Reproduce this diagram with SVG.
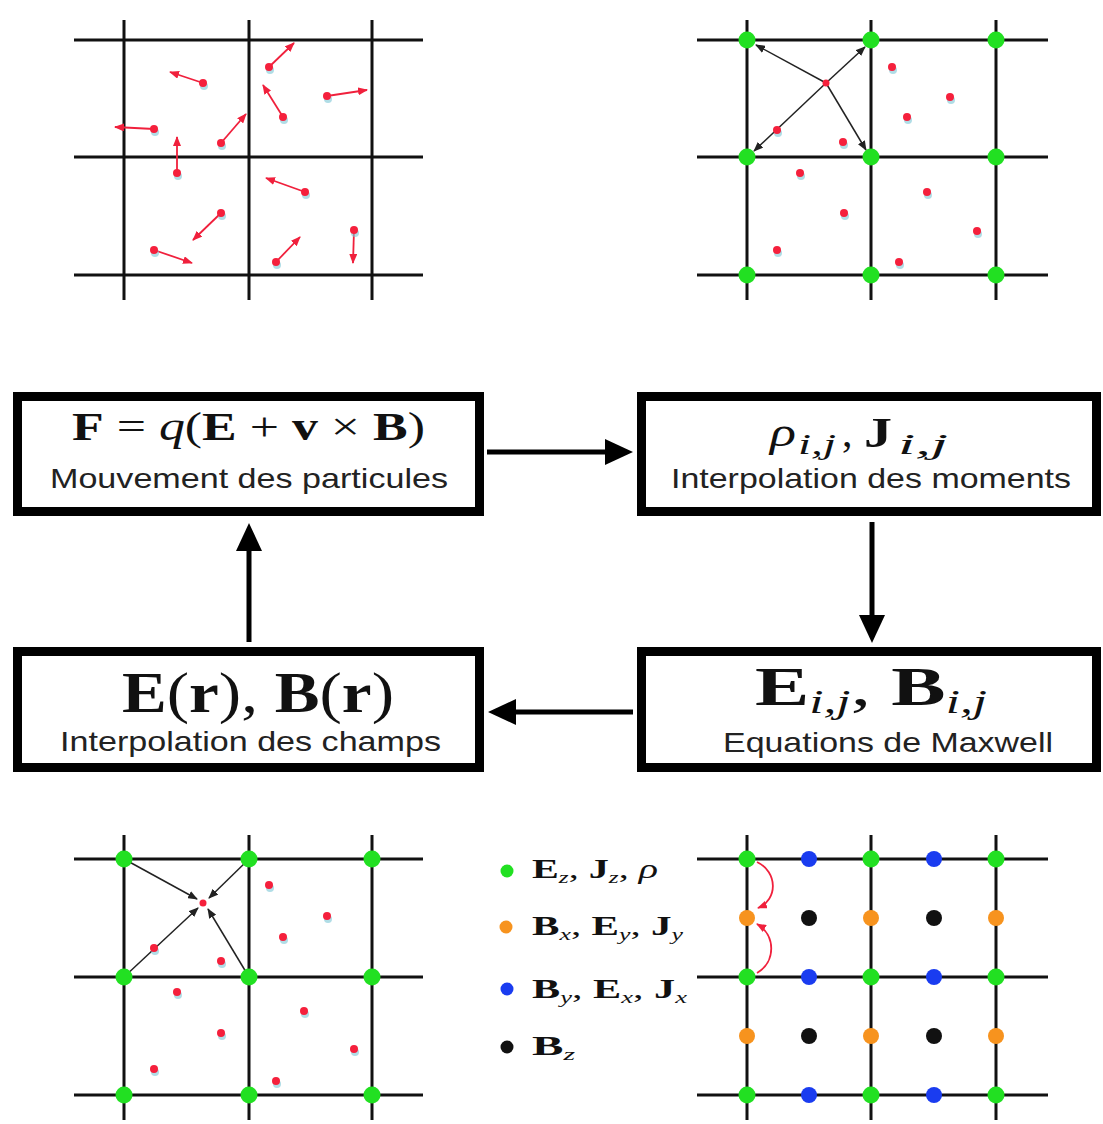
<svg xmlns="http://www.w3.org/2000/svg" width="1103" height="1124" viewBox="0 0 1103 1124">
<style>
.grid line{stroke:#111;stroke-width:3}
.box{fill:#fff;stroke:#000;stroke-width:9}
.flow{stroke:#000;stroke-width:5;fill:none}
.ra{stroke:#f0203c;stroke-width:1.8;fill:none}
.ba{stroke:#222;stroke-width:1.5;fill:none}
.sans{font-family:"Liberation Sans",Arial,sans-serif;font-size:28px;fill:#222}
.math{font-family:"Liberation Serif","Times New Roman",serif;fill:#111}
.b{font-weight:bold}
.i{font-style:italic}
.g{fill:#22e022}
.o{fill:#f7931e}
.bl{fill:#1a3cf0}
.k{fill:#111}
.pr{fill:#f5203c}
.sh{fill:#7cc6d6;opacity:.6}
</style>
<defs>
<marker id="ah" markerUnits="userSpaceOnUse" markerWidth="28" markerHeight="26" viewBox="0 0 28 26" refX="8" refY="13" orient="auto"><path d="M0,0L28,13L0,26z" fill="#000"/></marker>
<marker id="rh" markerUnits="userSpaceOnUse" markerWidth="10" markerHeight="8" viewBox="0 0 10 8" refX="9" refY="4" orient="auto"><path d="M0,0L10,4L0,8z" fill="#f0203c"/></marker>
<marker id="bh" markerUnits="userSpaceOnUse" markerWidth="10" markerHeight="8" viewBox="0 0 10 8" refX="9" refY="4" orient="auto"><path d="M0,0L10,4L0,8z" fill="#222"/></marker>
</defs>
<rect width="1103" height="1124" fill="#fff"/>

<!-- Top-left: particle motion -->
<g id="grid-particles">
<g class="grid">
<line x1="74" y1="40" x2="423" y2="40"/><line x1="74" y1="157" x2="423" y2="157"/><line x1="74" y1="275" x2="423" y2="275"/>
<line x1="124" y1="20" x2="124" y2="300"/><line x1="249" y1="20" x2="249" y2="300"/><line x1="372" y1="20" x2="372" y2="300"/>
</g>
<g>
<line class="ra" x1="203" y1="83" x2="170" y2="72" marker-end="url(#rh)"/>
<line class="ra" x1="154" y1="129" x2="115" y2="127" marker-end="url(#rh)"/>
<line class="ra" x1="177" y1="173" x2="177" y2="137" marker-end="url(#rh)"/>
<line class="ra" x1="221" y1="143" x2="246" y2="114" marker-end="url(#rh)"/>
<line class="ra" x1="269" y1="67" x2="294" y2="43" marker-end="url(#rh)"/>
<line class="ra" x1="283" y1="117" x2="263" y2="85" marker-end="url(#rh)"/>
<line class="ra" x1="327" y1="96" x2="367" y2="90" marker-end="url(#rh)"/>
<line class="ra" x1="305" y1="192" x2="266" y2="178" marker-end="url(#rh)"/>
<line class="ra" x1="221" y1="213" x2="193" y2="240" marker-end="url(#rh)"/>
<line class="ra" x1="154" y1="250" x2="192" y2="263" marker-end="url(#rh)"/>
<line class="ra" x1="276" y1="262" x2="300" y2="237" marker-end="url(#rh)"/>
<line class="ra" x1="354" y1="230" x2="353" y2="263" marker-end="url(#rh)"/>
</g>
<g>
<circle class="sh" cx="204" cy="86" r="4"/><circle class="pr" cx="203" cy="83" r="4"/>
<circle class="sh" cx="155" cy="132" r="4"/><circle class="pr" cx="154" cy="129" r="4"/>
<circle class="sh" cx="178" cy="176" r="4"/><circle class="pr" cx="177" cy="173" r="4"/>
<circle class="sh" cx="222" cy="146" r="4"/><circle class="pr" cx="221" cy="143" r="4"/>
<circle class="sh" cx="270" cy="70" r="4"/><circle class="pr" cx="269" cy="67" r="4"/>
<circle class="sh" cx="284" cy="120" r="4"/><circle class="pr" cx="283" cy="117" r="4"/>
<circle class="sh" cx="328" cy="99" r="4"/><circle class="pr" cx="327" cy="96" r="4"/>
<circle class="sh" cx="306" cy="195" r="4"/><circle class="pr" cx="305" cy="192" r="4"/>
<circle class="sh" cx="222" cy="216" r="4"/><circle class="pr" cx="221" cy="213" r="4"/>
<circle class="sh" cx="155" cy="253" r="4"/><circle class="pr" cx="154" cy="250" r="4"/>
<circle class="sh" cx="277" cy="265" r="4"/><circle class="pr" cx="276" cy="262" r="4"/>
<circle class="sh" cx="355" cy="233" r="4"/><circle class="pr" cx="354" cy="230" r="4"/>
</g>
</g>

<!-- Top-right: moment interpolation -->
<g id="grid-moments">
<g class="grid">
<line x1="697" y1="40" x2="1048" y2="40"/><line x1="697" y1="157" x2="1048" y2="157"/><line x1="697" y1="275" x2="1048" y2="275"/>
<line x1="747" y1="20" x2="747" y2="300"/><line x1="871" y1="20" x2="871" y2="300"/><line x1="996" y1="20" x2="996" y2="300"/>
</g>
<g>
<line class="ba" x1="826" y1="83" x2="756" y2="45" marker-end="url(#bh)"/>
<line class="ba" x1="826" y1="83" x2="865" y2="47" marker-end="url(#bh)"/>
<line class="ba" x1="826" y1="83" x2="754" y2="151" marker-end="url(#bh)"/>
<line class="ba" x1="826" y1="83" x2="866" y2="150" marker-end="url(#bh)"/>
</g>
<g>
<circle class="g" cx="747" cy="40" r="8.5"/><circle class="g" cx="871" cy="40" r="8.5"/><circle class="g" cx="996" cy="40" r="8.5"/>
<circle class="g" cx="747" cy="157" r="8.5"/><circle class="g" cx="871" cy="157" r="8.5"/><circle class="g" cx="996" cy="157" r="8.5"/>
<circle class="g" cx="747" cy="275" r="8.5"/><circle class="g" cx="871" cy="275" r="8.5"/><circle class="g" cx="996" cy="275" r="8.5"/>
</g>
<g>
<circle class="pr" cx="826" cy="83" r="3.5"/>
<circle class="sh" cx="893" cy="70" r="4"/><circle class="pr" cx="892" cy="67" r="4"/>
<circle class="sh" cx="951" cy="100" r="4"/><circle class="pr" cx="950" cy="97" r="4"/>
<circle class="sh" cx="908" cy="120" r="4"/><circle class="pr" cx="907" cy="117" r="4"/>
<circle class="sh" cx="778" cy="133" r="4"/><circle class="pr" cx="777" cy="130" r="4"/>
<circle class="sh" cx="844" cy="145" r="4"/><circle class="pr" cx="843" cy="142" r="4"/>
<circle class="sh" cx="801" cy="176" r="4"/><circle class="pr" cx="800" cy="173" r="4"/>
<circle class="sh" cx="928" cy="195" r="4"/><circle class="pr" cx="927" cy="192" r="4"/>
<circle class="sh" cx="845" cy="216" r="4"/><circle class="pr" cx="844" cy="213" r="4"/>
<circle class="sh" cx="978" cy="234" r="4"/><circle class="pr" cx="977" cy="231" r="4"/>
<circle class="sh" cx="778" cy="253" r="4"/><circle class="pr" cx="777" cy="250" r="4"/>
<circle class="sh" cx="900" cy="265" r="4"/><circle class="pr" cx="899" cy="262" r="4"/>
</g>
</g>

<!-- Bottom-left: field interpolation -->
<g id="grid-fields">
<g class="grid">
<line x1="74" y1="859" x2="423" y2="859"/><line x1="74" y1="977" x2="423" y2="977"/><line x1="74" y1="1095" x2="423" y2="1095"/>
<line x1="124" y1="835" x2="124" y2="1120"/><line x1="249" y1="835" x2="249" y2="1120"/><line x1="372" y1="835" x2="372" y2="1120"/>
</g>
<g>
<line class="ba" x1="124" y1="859" x2="197" y2="899" marker-end="url(#bh)"/>
<line class="ba" x1="249" y1="859" x2="209" y2="898" marker-end="url(#bh)"/>
<line class="ba" x1="124" y1="977" x2="198" y2="908" marker-end="url(#bh)"/>
<line class="ba" x1="249" y1="977" x2="208" y2="909" marker-end="url(#bh)"/>
</g>
<g>
<circle class="g" cx="124" cy="859" r="8.5"/><circle class="g" cx="249" cy="859" r="8.5"/><circle class="g" cx="372" cy="859" r="8.5"/>
<circle class="g" cx="124" cy="977" r="8.5"/><circle class="g" cx="249" cy="977" r="8.5"/><circle class="g" cx="372" cy="977" r="8.5"/>
<circle class="g" cx="124" cy="1095" r="8.5"/><circle class="g" cx="249" cy="1095" r="8.5"/><circle class="g" cx="372" cy="1095" r="8.5"/>
</g>
<g>
<circle class="pr" cx="203" cy="903" r="3.5"/>
<circle class="sh" cx="270" cy="888" r="4"/><circle class="pr" cx="269" cy="885" r="4"/>
<circle class="sh" cx="328" cy="919" r="4"/><circle class="pr" cx="327" cy="916" r="4"/>
<circle class="sh" cx="284" cy="940" r="4"/><circle class="pr" cx="283" cy="937" r="4"/>
<circle class="sh" cx="155" cy="951" r="4"/><circle class="pr" cx="154" cy="948" r="4"/>
<circle class="sh" cx="222" cy="964" r="4"/><circle class="pr" cx="221" cy="961" r="4"/>
<circle class="sh" cx="178" cy="995" r="4"/><circle class="pr" cx="177" cy="992" r="4"/>
<circle class="sh" cx="305" cy="1014" r="4"/><circle class="pr" cx="304" cy="1011" r="4"/>
<circle class="sh" cx="222" cy="1036" r="4"/><circle class="pr" cx="221" cy="1033" r="4"/>
<circle class="sh" cx="355" cy="1052" r="4"/><circle class="pr" cx="354" cy="1049" r="4"/>
<circle class="sh" cx="155" cy="1072" r="4"/><circle class="pr" cx="154" cy="1069" r="4"/>
<circle class="sh" cx="277" cy="1084" r="4"/><circle class="pr" cx="276" cy="1081" r="4"/>
</g>
</g>

<!-- Legend -->
<g id="legend">
<circle class="g" cx="507" cy="871" r="6.5"/>
<circle class="o" cx="506" cy="927" r="6.5"/>
<circle class="bl" cx="507" cy="989" r="6.5"/>
<circle class="k" cx="507" cy="1047" r="6.5"/>
<text class="math" x="532" y="878" font-size="27" textLength="126" lengthAdjust="spacingAndGlyphs"><tspan class="b">E</tspan><tspan class="i" font-size="17" dy="5">z</tspan><tspan dy="-5">, </tspan><tspan class="b">J</tspan><tspan class="i" font-size="17" dy="5">z</tspan><tspan dy="-5">, </tspan><tspan class="i">ρ</tspan></text>
<text class="math" x="532" y="935" font-size="27" textLength="151" lengthAdjust="spacingAndGlyphs"><tspan class="b">B</tspan><tspan class="i" font-size="17" dy="5">x</tspan><tspan dy="-5">, </tspan><tspan class="b">E</tspan><tspan class="i" font-size="17" dy="5">y</tspan><tspan dy="-5">, </tspan><tspan class="b">J</tspan><tspan class="i" font-size="17" dy="5">y</tspan></text>
<text class="math" x="532" y="998" font-size="27" textLength="155" lengthAdjust="spacingAndGlyphs"><tspan class="b">B</tspan><tspan class="i" font-size="17" dy="5">y</tspan><tspan dy="-5">, </tspan><tspan class="b">E</tspan><tspan class="i" font-size="17" dy="5">x</tspan><tspan dy="-5">, </tspan><tspan class="b">J</tspan><tspan class="i" font-size="17" dy="5">x</tspan></text>
<text class="math" x="532" y="1055" font-size="27" textLength="43" lengthAdjust="spacingAndGlyphs"><tspan class="b">B</tspan><tspan class="i" font-size="17" dy="5">z</tspan></text>
</g>

<!-- Bottom-right: Yee grid -->
<g id="grid-yee">
<g class="grid">
<line x1="697" y1="859" x2="1048" y2="859"/><line x1="697" y1="977" x2="1048" y2="977"/><line x1="697" y1="1095" x2="1048" y2="1095"/>
<line x1="747" y1="835" x2="747" y2="1120"/><line x1="871" y1="835" x2="871" y2="1120"/><line x1="996" y1="835" x2="996" y2="1120"/>
</g>
<path class="ra" d="M757,862 C778,872 778,900 758,908" marker-end="url(#rh)"/>
<path class="ra" d="M757,973 C776,962 776,935 757,924" marker-end="url(#rh)"/>
<g>
<circle class="g" cx="747" cy="859" r="8.5"/><circle class="g" cx="871" cy="859" r="8.5"/><circle class="g" cx="996" cy="859" r="8.5"/>
<circle class="g" cx="747" cy="977" r="8.5"/><circle class="g" cx="871" cy="977" r="8.5"/><circle class="g" cx="996" cy="977" r="8.5"/>
<circle class="g" cx="747" cy="1095" r="8.5"/><circle class="g" cx="871" cy="1095" r="8.5"/><circle class="g" cx="996" cy="1095" r="8.5"/>
<circle class="bl" cx="809" cy="859" r="8"/><circle class="bl" cx="934" cy="859" r="8"/>
<circle class="bl" cx="809" cy="977" r="8"/><circle class="bl" cx="934" cy="977" r="8"/>
<circle class="bl" cx="809" cy="1095" r="8"/><circle class="bl" cx="934" cy="1095" r="8"/>
<circle class="o" cx="747" cy="918" r="8"/><circle class="o" cx="871" cy="918" r="8"/><circle class="o" cx="996" cy="918" r="8"/>
<circle class="o" cx="747" cy="1036" r="8"/><circle class="o" cx="871" cy="1036" r="8"/><circle class="o" cx="996" cy="1036" r="8"/>
<circle class="k" cx="809" cy="918" r="8"/><circle class="k" cx="934" cy="918" r="8"/>
<circle class="k" cx="809" cy="1036" r="8"/><circle class="k" cx="934" cy="1036" r="8"/>
</g>
</g>

<!-- Boxes -->
<g id="box-particles">
<rect class="box" x="17.5" y="396.5" width="462" height="115"/>
<text class="math" x="72" y="440" font-size="39" textLength="353" lengthAdjust="spacingAndGlyphs"><tspan class="b">F</tspan> = <tspan class="i">q</tspan>(<tspan class="b">E</tspan> + <tspan class="b">v</tspan> × <tspan class="b">B</tspan>)</text>
<text class="sans" x="50" y="488" textLength="398" lengthAdjust="spacingAndGlyphs">Mouvement des particules</text>
</g>
<g id="box-moments">
<rect class="box" x="641.5" y="396.5" width="455" height="115"/>
<g class="math">
<text class="i" x="770" y="446" font-size="42" textLength="26" lengthAdjust="spacingAndGlyphs">ρ</text>
<text class="i" x="798" y="454" font-size="29" textLength="38" lengthAdjust="spacingAndGlyphs">i,j</text>
<text x="842" y="446" font-size="42">,</text>
<text class="b" x="864" y="447" font-size="42" textLength="28" lengthAdjust="spacingAndGlyphs">J</text>
<text class="i" x="898" y="454" font-size="29" textLength="50" lengthAdjust="spacingAndGlyphs">i,j</text>
</g>
<text class="sans" x="671" y="488" textLength="400" lengthAdjust="spacingAndGlyphs">Interpolation des moments</text>
</g>
<g id="box-fields">
<rect class="box" x="17.5" y="651.5" width="462" height="116"/>
<text class="math" x="122" y="712" font-size="56" textLength="272" lengthAdjust="spacingAndGlyphs"><tspan class="b">E</tspan>(<tspan class="b">r</tspan>), <tspan class="b">B</tspan>(<tspan class="b">r</tspan>)</text>
<text class="sans" x="60" y="751" textLength="381" lengthAdjust="spacingAndGlyphs">Interpolation des champs</text>
</g>
<g id="box-maxwell">
<rect class="box" x="641.5" y="651.5" width="455" height="116"/>
<text class="math" x="755" y="705" font-size="54" textLength="232" lengthAdjust="spacingAndGlyphs"><tspan class="b">E</tspan><tspan class="i" font-size="34" dy="8">i,j</tspan><tspan dy="-8">, </tspan><tspan class="b">B</tspan><tspan class="i" font-size="34" dy="8">i,j</tspan></text>
<text class="sans" x="723" y="752" textLength="330" lengthAdjust="spacingAndGlyphs">Equations de Maxwell</text>
</g>

<!-- Connectors -->
<g id="connectors">
<line class="flow" x1="487" y1="452" x2="613" y2="452" marker-end="url(#ah)"/>
<line class="flow" x1="872" y1="522" x2="872" y2="623" marker-end="url(#ah)"/>
<line class="flow" x1="633" y1="712" x2="508" y2="712" marker-end="url(#ah)"/>
<line class="flow" x1="249" y1="642" x2="249" y2="543" marker-end="url(#ah)"/>
</g>
</svg>
